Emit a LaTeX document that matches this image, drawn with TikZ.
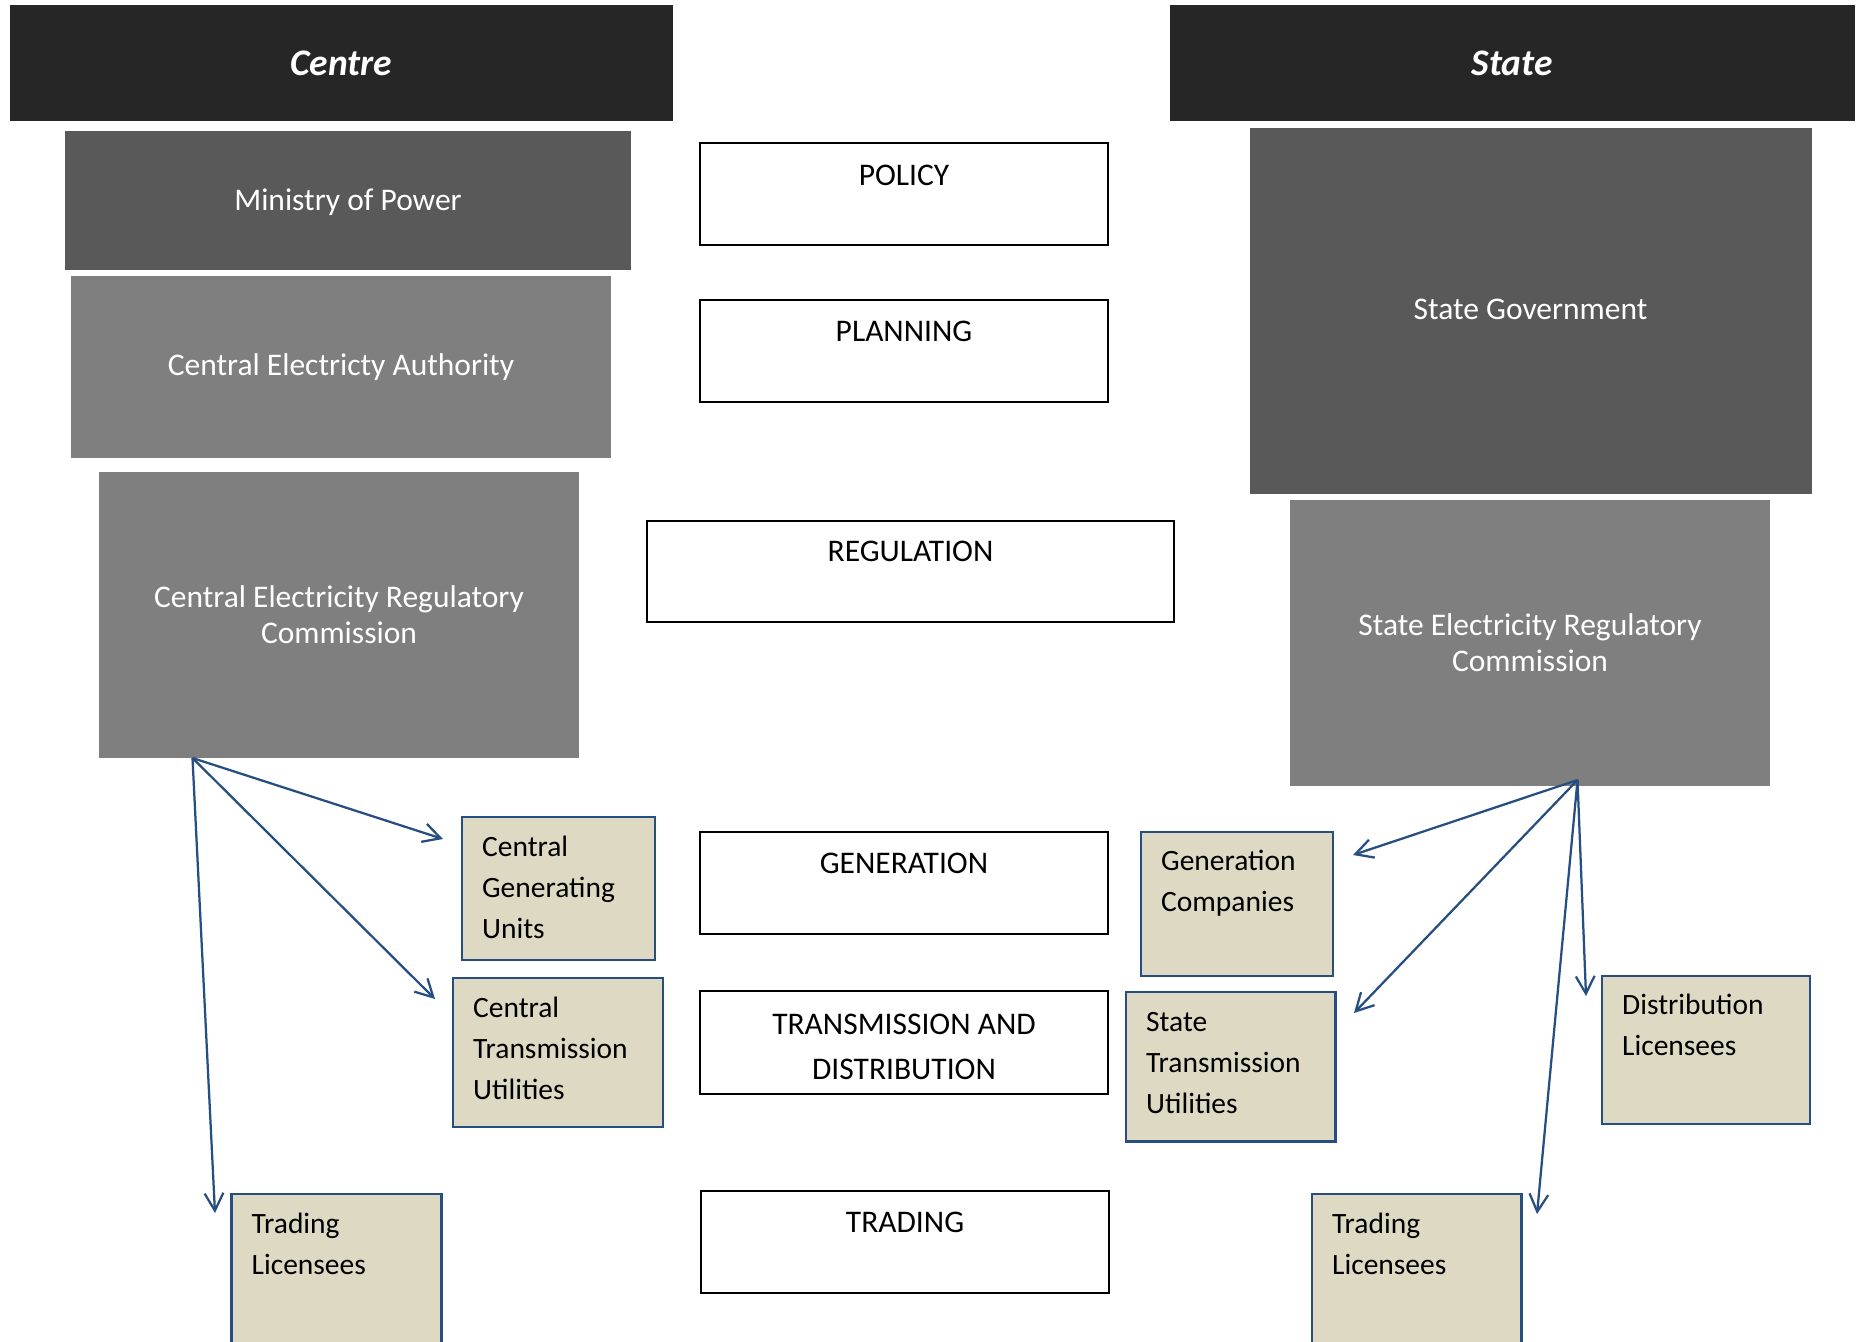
\documentclass[tikz,border=0pt]{standalone}
\usepackage{fontspec}
\setmainfont{Carlito}
\usetikzlibrary{arrows.meta,fit,calc}
\definecolor{hdr}{HTML}{262626}
\definecolor{dg}{HTML}{595959}
\definecolor{mg}{HTML}{7F7F7F}
\definecolor{beige}{HTML}{DDD9C3}
\definecolor{navy}{HTML}{264E82}
\newcommand\bodyfont{\fontsize{12.6}{14.2}\selectfont}
\newcommand\beigetab[1]{\fontsize{11.8}{16.4}\selectfont\begin{tabular}[t]{@{}l@{}}#1\end{tabular}}
\newcommand\tdtab[1]{\fontsize{12.6}{18}\selectfont\begin{tabular}[t]{@{}c@{}}#1\end{tabular}}
\newcommand\mkbox[6]{\node[#1, fit={(#3,#4) (#5,#6)}] (#2) {};}
\begin{document}
\begin{tikzpicture}[x=0.4pt,y=-0.4pt,
  hdrbox/.style={fill=hdr, draw=none, inner sep=0pt},
  darkbox/.style={fill=dg, draw=none, inner sep=0pt},
  midbox/.style={fill=mg, draw=none, inner sep=0pt},
  layerbox/.style={draw=black, line width=0.8pt, fill=white, inner sep=0pt},
  entbox/.style={draw=navy, line width=1.1pt, fill=beige, inner sep=0pt},
  hdrtext/.style={text=white, inner sep=0pt, font=\fontsize{15}{18}\selectfont\bfseries\itshape},
  graytext/.style={text=white, font=\bodyfont, align=center, inner sep=0pt},
  layertext/.style={anchor=base, inner sep=0pt, font=\fontsize{12.6}{15}\selectfont},
  enttext/.style={anchor=base west, inner sep=0pt},
  arr/.style={draw=navy, line width=0.9pt, -{Straight Barb[length=7pt,width=7.5pt]}}
]
\useasboundingbox (0,0) rectangle (1864,1341);
\fill[white] (0,0) rectangle (1864,1341);
\clip (0,0) rectangle (1864,1341);

% headers
\mkbox{hdrbox}{centre}{9.5}{5}{673}{121}
\mkbox{hdrbox}{state}{1170}{5}{1854.5}{121}
\node[hdrtext] (centret) at (centre) {Centre};
\node[hdrtext] (statet) at (state) {State};

% centre authorities
\mkbox{darkbox}{mop}{65}{131}{631}{270}
\mkbox{midbox}{cea}{71}{276}{611}{458}
\mkbox{midbox}{cerc}{99}{472}{579}{757.5}
\node[graytext] (mopt) at ($(mop)+(0,2)$) {Ministry of Power};
\node[graytext] (ceat) at (cea) {Central Electricty Authority};
\node[graytext] (cerct) at (cerc) {Central Electricity Regulatory\\Commission};

% state authorities
\mkbox{darkbox}{sgov}{1249.5}{128}{1811.5}{494}
\mkbox{midbox}{serc}{1290}{500}{1770}{785.5}
\node[graytext] (sgovt) at ($(sgov)+(0,-2)$) {State Government};
\node[graytext] (serct) at (serc) {State Electricity Regulatory\\Commission};

% layers
\mkbox{layerbox}{policy}{700}{143}{1108}{245}
\mkbox{layerbox}{planning}{700}{300}{1108}{402}
\mkbox{layerbox}{regulation}{647}{521}{1174}{622}
\mkbox{layerbox}{generation}{700}{832}{1108}{934}
\mkbox{layerbox}{td}{700}{991}{1108}{1094}
\mkbox{layerbox}{trading}{701}{1191}{1109}{1293}
\node[layertext] (policyt) at ($(policy.north)+(0,43)$) {POLICY};
\node[layertext] (planningt) at ($(planning.north)+(0,42)$) {PLANNING};
\node[layertext] (regulationt) at ($(regulation.north)+(0,41)$) {REGULATION};
\node[layertext] (generationt) at ($(generation.north)+(0,42)$) {GENERATION};
\node[layertext] (tdt) at ($(td.north)+(0,44)$) {\tdtab{TRANSMISSION AND\\DISTRIBUTION}};
\node[layertext] (tradingt) at ($(trading.north)+(0,42)$) {TRADING};

% centre entities
\mkbox{entbox}{cgu}{462}{817}{655}{960}
\mkbox{entbox}{ctu}{453}{978}{663}{1127}
\mkbox{entbox}{ltl}{231.5}{1194}{441.5}{1360}
\node[enttext] (cgut) at ($(cgu.north west)+(21,41)$) {\beigetab{Central\\Generating\\Units}};
\node[enttext] (ctut) at ($(ctu.north west)+(21,41)$) {\beigetab{Central\\Transmission\\Utilities}};
\node[enttext] (ltlt) at ($(ltl.north west)+(21,41)$) {\beigetab{Trading\\Licensees}};

% state entities
\mkbox{entbox}{genco}{1141}{832}{1333}{976}
\mkbox{entbox}{stu}{1126}{992}{1335.5}{1141.5}
\mkbox{entbox}{dist}{1602}{976}{1810}{1124}
\mkbox{entbox}{rtl}{1312}{1194}{1521.5}{1360}
\node[enttext] (gencot) at ($(genco.north west)+(21,40)$) {\beigetab{Generation\\Companies}};
\node[enttext] (stut) at ($(stu.north west)+(21,41)$) {\beigetab{State\\Transmission\\Utilities}};
\node[enttext] (distt) at ($(dist.north west)+(21,40)$) {\beigetab{Distribution\\Licensees}};
\node[enttext] (rtlt) at ($(rtl.north west)+(21,41)$) {\beigetab{Trading\\Licensees}};

% arrow end points
\coordinate (lsrc) at ($(cerc.south west)+(94,0)$);
\coordinate (ltgen) at (443,839);
\coordinate (lttrans) at (435,999);
\coordinate (lttrade) at (215,1213);
\coordinate (rsrc) at ($(serc.south west)+(288,-6)$);
\coordinate (rtgen) at (1353,855);
\coordinate (rttrans) at (1354,1013);
\coordinate (rtdist) at (1586,996);
\coordinate (rttrade) at (1537,1214);

\draw[arr] (lsrc) -- (ltgen);
\draw[arr] (lsrc) -- (lttrans);
\draw[arr] (lsrc) -- (lttrade);
\draw[arr] (rsrc) -- (rtgen);
\draw[arr] (rsrc) -- (rttrans);
\draw[arr] (rsrc) -- (rtdist);
\draw[arr] (rsrc) -- (rttrade);
\end{tikzpicture}
\end{document}
